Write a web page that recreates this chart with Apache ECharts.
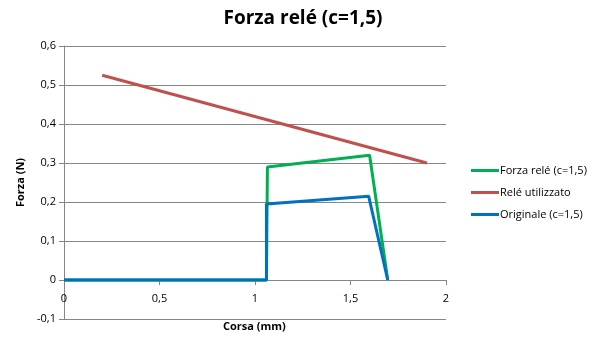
<!DOCTYPE html>
<html><head><meta charset="utf-8">
<script src="https://cdn.jsdelivr.net/npm/echarts@6/dist/echarts.min.js"></script>
<style>html,body{margin:0;padding:0;background:#fff}#c{width:600px;height:355px}</style>
</head><body><div id="c"></div>
<script>
const titleText = "Forza relé (c=1,5)";
const xName = "Corsa (mm)";
const yName = "Forza (N)";
const seriesNames = ["Forza relé (c=1,5)", "Relé utilizzato", "Originale (c=1,5)"];
const forzaX = [0, 1.06, 1.065, 1.6, 1.695];
const forzaY = [0, 0, 0.29, 0.32, 0];
const releX = [0.2, 1.9];
const releY = [0.525, 0.3];
const origX = [0, 1.06, 1.06, 1.595, 1.695];
const origY = [0, 0, 0.195, 0.215, 0];
const colors = ["#00B050", "#C0504D", "#0070C0"];

const pairs = (xs, ys) => xs.map((x, i) => [x, ys[i]]);
const fmt = v => String(Math.round(v * 10) / 10).replace('.', ',');
const font = "'Open Sans', 'Noto Sans', sans-serif";

const chart = echarts.init(document.getElementById('c'), null, {renderer: 'canvas'});
chart.setOption({
  animation: false,
  color: colors,
  title: {text: titleText, left: 298, textAlign: 'center', top: 4,
    textStyle: {fontSize: 19, fontWeight: 'bold', color: '#000', fontFamily: font}},
  grid: {left: 64, right: 154, top: 46, bottom: 36, containLabel: false, outerBoundsMode: 'none'},
  legend: {orient: 'vertical', left: 466, top: 160, itemGap: 11, itemWidth: 28, itemHeight: 3,
    icon: 'rect', textStyle: {fontSize: 11, color: '#000', fontFamily: font, padding: [0,0,0,-4]},
    data: seriesNames},
  xAxis: {type: 'value', min: 0, max: 2, interval: 0.5,
    axisLine: {onZero: true, lineStyle: {color: '#868686'}},
    axisTick: {show: true, length: 5, lineStyle: {color: '#868686'}},
    axisLabel: {formatter: fmt, fontSize: 11, color: '#000', fontFamily: font, margin: -26},
    splitLine: {show: false}},
  yAxis: {type: 'value', min: -0.1, max: 0.6, interval: 0.1,
    name: yName, nameLocation: 'middle', nameGap: 36,
    nameTextStyle: {fontSize: 11, fontWeight: 'bold', color: '#000', fontFamily: font},
    axisLine: {show: true, lineStyle: {color: '#868686'}},
    axisTick: {show: true, length: 5, lineStyle: {color: '#868686'}},
    axisLabel: {formatter: fmt, fontSize: 11, color: '#000', fontFamily: font, margin: 8},
    splitLine: {show: true, lineStyle: {color: '#868686', width: 1}}},
  graphic: [{type: 'text', left: 223, top: 321,
    style: {text: xName, font: "bold 11px 'Open Sans', sans-serif", fill: '#000'}}],
  series: [
    {name: seriesNames[0], type: 'line', data: pairs(forzaX, forzaY), showSymbol: false, symbol: 'none', lineStyle: {width: 3}},
    {name: seriesNames[1], type: 'line', data: pairs(releX, releY), showSymbol: false, symbol: 'none', lineStyle: {width: 3}},
    {name: seriesNames[2], type: 'line', data: pairs(origX, origY), showSymbol: false, symbol: 'none', lineStyle: {width: 3}}
  ]
});
</script></body></html>
